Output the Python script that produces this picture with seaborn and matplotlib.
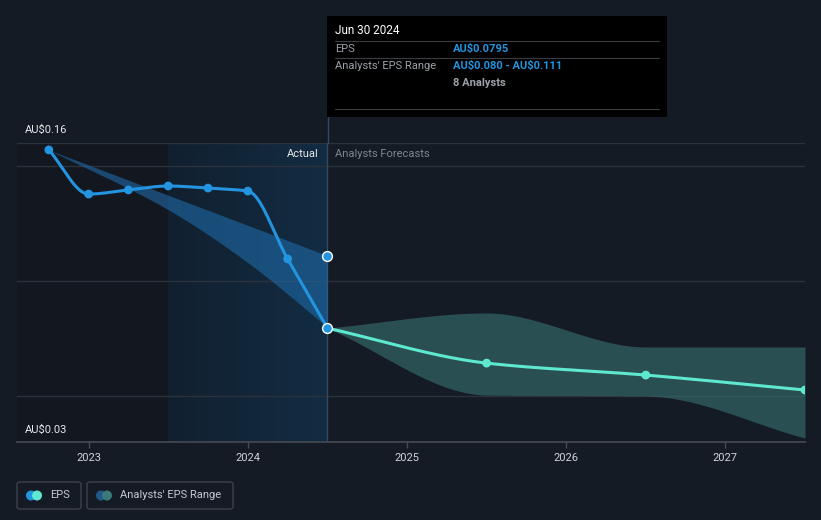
import numpy as np
import pandas as pd
import matplotlib
matplotlib.use("Agg")
import matplotlib.pyplot as plt
from matplotlib.patches import FancyBboxPatch, Rectangle, Ellipse
from matplotlib.colors import LinearSegmentedColormap
import seaborn as sns

# ---------------- data ----------------
actual_dates = [2022.75, 2023.0, 2023.25, 2023.5, 2023.75, 2024.0, 2024.25, 2024.5]
actual_eps = [0.157, 0.1378, 0.1396, 0.1413, 0.1404, 0.1391, 0.1096, 0.0795]

past_range_dates = [2022.75, 2023.5, 2024.0, 2024.5]
past_range_high = [0.157, 0.1373, 0.1242, 0.111]
past_range_low = [0.157, 0.131, 0.108, 0.080]

fc_dates = [2024.5, 2025.5, 2026.5, 2027.5]
fc_eps = [0.0795, 0.0643, 0.0591, 0.0526]
fc_high = [0.0795, 0.0861, 0.0713, 0.0713]
fc_low = [0.0795, 0.0504, 0.0500, 0.0317]

year_ticks = [2023, 2024, 2025, 2026, 2027]
y_labels = ["AU$0.16", "AU$0.03"]

# ---------------- style ----------------
BG = "#151b25"
BLUE = "#2394df"
MINT = "#5ee8cf"
GRID = "#2c323b"

sns.set_theme(style="dark")
plt.rcParams["font.family"] = ["Roboto", "DejaVu Sans"]
plt.rcParams["text.parse_math"] = False


def monotone(xs, ys, n=200):
    xs = np.asarray(xs, float)
    ys = np.asarray(ys, float)
    h = np.diff(xs)
    d = np.diff(ys) / h
    m = np.zeros_like(ys)
    m[0], m[-1] = d[0], d[-1]
    for i in range(1, len(xs) - 1):
        if d[i - 1] * d[i] <= 0:
            m[i] = 0
        else:
            w1 = 2 * h[i] + h[i - 1]
            w2 = h[i] + 2 * h[i - 1]
            m[i] = (w1 + w2) / (w1 / d[i - 1] + w2 / d[i])
    xo, yo = [], []
    for i in range(len(xs) - 1):
        t = np.linspace(0, 1, n)
        h00 = 2 * t**3 - 3 * t**2 + 1
        h10 = t**3 - 2 * t**2 + t
        h01 = -2 * t**3 + 3 * t**2
        h11 = t**3 - t**2
        yy = h00 * ys[i] + h10 * h[i] * m[i] + h01 * ys[i + 1] + h11 * h[i] * m[i + 1]
        xo.extend(xs[i] + t * h[i])
        yo.extend(yy)
    return np.array(xo), np.array(yo)


fig = plt.figure(figsize=(8.21, 5.2), dpi=100, facecolor=BG)
W, H = 821, 520
x0, x1 = 17, 805
ytop, ybot = 143, 442
ax = fig.add_axes([x0 / W, 1 - ybot / H, (x1 - x0) / W, (ybot - ytop) / H])
ax.set_facecolor(BG)
xmin, xmax = 2022.55, 2027.5
ax.set_xlim(xmin, xmax)
ax.set_ylim(0.03, 0.16)

# shaded regions
ax.axvspan(xmin, 2023.5, color="#13171f", zorder=0, lw=0)
grad = np.linspace(0, 1, 256).reshape(1, -1)
cm = LinearSegmentedColormap.from_list("g", ["#11202f", "#132c43"])
ax.imshow(grad, extent=[2023.5, 2024.5, 0.03, 0.16], aspect="auto", cmap=cm, zorder=0.5)

# gridlines
for gy in [0.05, 0.10, 0.15, 0.16]:
    ax.axhline(gy, color=GRID, lw=1, zorder=1)
ax.axvline(2024.5, color="#2f4a63", lw=1, zorder=1)

# bands
bx, bh = monotone(past_range_dates, past_range_high)
_, bl = monotone(past_range_dates, past_range_low)
ax.fill_between(bx, bl, bh, color="#1f6aa8", alpha=0.6, lw=0, zorder=2)
fx, fh = monotone(fc_dates, fc_high)
_, fl = monotone(fc_dates, fc_low)
ax.fill_between(fx, fl, fh, color="#3b7a78", alpha=0.55, lw=0, zorder=2)

# lines
ax_x, ax_y = monotone(actual_dates, actual_eps)
sns.lineplot(x=ax_x, y=ax_y, ax=ax, color=BLUE, lw=2.2, zorder=4, sort=False)
fcx, fcy = monotone(fc_dates, fc_eps)
sns.lineplot(x=fcx, y=fcy, ax=ax, color=MINT, lw=2.2, zorder=4, sort=False)

sns.scatterplot(x=actual_dates[:-1], y=actual_eps[:-1], ax=ax, color=BLUE, s=40,
                edgecolor="none", zorder=5)
sns.scatterplot(x=fc_dates[1:], y=fc_eps[1:], ax=ax, color=MINT, s=40,
                edgecolor="none", zorder=5)
sns.scatterplot(x=[2024.5, 2024.5], y=[actual_eps[-1], past_range_high[-1]], ax=ax,
                color=BLUE, s=50, edgecolor="white", linewidth=1, zorder=6)

# axes styling
for s in ["top", "right", "left"]:
    ax.spines[s].set_visible(False)
ax.spines["bottom"].set_color("#464b53")
ax.spines["bottom"].set_linewidth(1.2)
ax.set_yticks([])
ax.set_xticks(year_ticks)
ax.set_xticklabels([str(y) for y in year_ticks])
ax.tick_params(axis="x", colors="#464b53", length=4, width=1, direction="out",
               labelcolor="#d0d3d8", labelsize=8, pad=4, bottom=True)
ax.grid(False)

# y labels
fig.text(25 / W, 1 - 130 / H, y_labels[0], color="#e6e8eb", fontsize=8, va="center")
fig.text(25 / W, 1 - 430 / H, y_labels[1], color="#e6e8eb", fontsize=8, va="center")

# Actual / Forecast labels
fig.text(319 / W, 1 - 154 / H, "Actual", color="#e6e8eb", fontsize=8, ha="right", va="center")
fig.text(335 / W, 1 - 154 / H, "Analysts Forecasts", color="#7f858d", fontsize=8, va="center")

# vertical line to tooltip
fig.add_artist(plt.Line2D([327.5 / W, 327.5 / W], [1 - 143 / H, 1 - 117 / H],
                          color="#2f4a63", lw=1))

# tooltip
fig.add_artist(Rectangle((327 / W, 1 - 117 / H), 340 / W, 101 / H, color="#000000", lw=0))
fig.text(335 / W, 1 - 31 / H, "Jun 30 2024", color="white", fontsize=8.5, va="center")
for ly in [41, 58, 109]:
    fig.add_artist(plt.Line2D([335 / W, 659 / W], [1 - ly / H, 1 - ly / H], color="#3a3d42", lw=0.8))
fig.text(335 / W, 1 - 49 / H, "EPS", color="#9da2a9", fontsize=8, va="center")
fig.text(453 / W, 1 - 49 / H, "AU$0.0795", color=BLUE, fontsize=8, va="center", weight="bold")
fig.text(335 / W, 1 - 66 / H, "Analysts' EPS Range", color="#9da2a9", fontsize=8, va="center")
fig.text(453 / W, 1 - 66 / H, "AU$0.080 - AU$0.111", color=BLUE, fontsize=8, va="center", weight="bold")
fig.text(453 / W, 1 - 83 / H, "8 Analysts", color="#9da2a9", fontsize=8, va="center", weight="bold")

# legend
for (lx, lw_, c1, c2, label) in [(17, 64, BLUE, MINT, "EPS"),
                                   (87, 146, "#1f5a8a", "#3b7a78", "Analysts' EPS Range")]:
    fig.add_artist(FancyBboxPatch((lx / W, 1 - 509 / H), lw_ / W, 27 / H,
                                  boxstyle="round,pad=0,rounding_size=0.004",
                                  fc="none", ec="#3c414a", lw=1))
    fig.add_artist(Ellipse(((lx + 14) / W, 1 - 495.5 / H), 10 / W, 10 / H, color=c1, lw=0))
    fig.add_artist(Ellipse(((lx + 20) / W, 1 - 495.5 / H), 10 / W, 10 / H, color=c2, lw=0))
    fig.text((lx + 33) / W, 1 - 495.5 / H, label, color="#c5c9ce", fontsize=8, va="center")

fig.savefig("out.png", dpi=100, facecolor=BG)
